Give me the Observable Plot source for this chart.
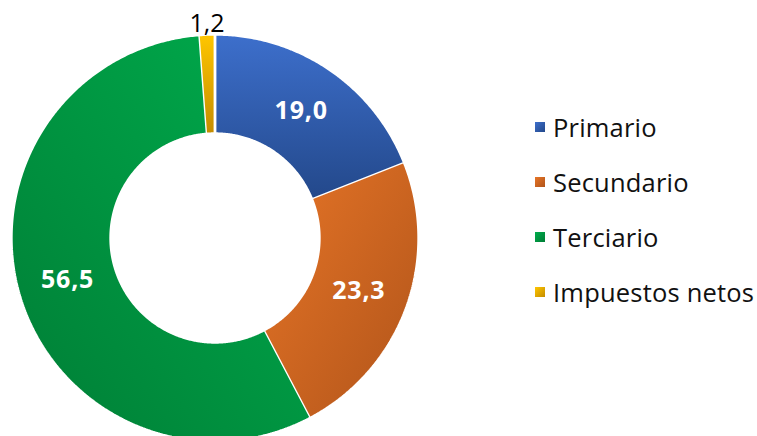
<!DOCTYPE html>
<html>
<head>
<meta charset="utf-8">
<script src="https://cdn.jsdelivr.net/npm/d3@7"></script>
<script src="https://cdn.jsdelivr.net/npm/@observablehq/plot@0.6"></script>
<style>
  html, body { margin: 0; padding: 0; background: #fff; }
  #wrap { position: relative; width: 757px; height: 436px; overflow: hidden; font-family: "Open Sans", "Noto Sans", sans-serif; }
  #wrap svg { position: absolute; left: 0; top: 0; }
  #legend { position: absolute; left: 535px; top: 99px; }
  .row { height: 55px; display: flex; align-items: center; font-size: 25.5px; color: #111; white-space: nowrap; letter-spacing: 0.2px; }
  .sw { width: 10px; height: 10px; margin-right: 8px; }
  .lbl { letter-spacing: 0.8px; }
</style>
</head>
<body>
<div id="wrap"><div id="legend"></div></div>
<script>
const categories = ["Primario", "Secundario", "Terciario", "Impuestos netos"];
const values = [19.0, 23.3, 56.5, 1.2];
const valueLabels = ["19,0", "23,3", "56,5", "1,2"];

// gradient stops per category (light, dark) and direction
const gradients = [
  {id: "g0", light: "#3d6fcc", dark: "#23488a", x1: 0, y1: 0, x2: 0, y2: 1},
  {id: "g1", light: "#e77527", dark: "#b0541a", x1: 0, y1: 0, x2: 1, y2: 1},
  {id: "g2", light: "#00ad4d", dark: "#007d35", x1: 1, y1: 0, x2: 0, y2: 1},
  {id: "g3", light: "#ffc600", dark: "#c48c00", x1: 0, y1: 0, x2: 0, y2: 1}
];

const inner = 0.515;
const outer = 1.006;
const pie = d3.pie().sort(null).value(d => d.value).startAngle(0).endAngle(2 * Math.PI);
const slices = pie(categories.map((c, i) => ({category: c, value: values[i], label: valueLabels[i]})));

const pts = [];
for (const s of slices) {
  const n = Math.max(4, Math.ceil((s.endAngle - s.startAngle) / (Math.PI / 360)));
  for (let k = 0; k <= n; k++) {
    const a = s.startAngle + (s.endAngle - s.startAngle) * k / n;
    pts.push({category: s.data.category, x: outer * Math.sin(a), y: outer * Math.cos(a)});
  }
  for (let k = n; k >= 0; k--) {
    const a = s.startAngle + (s.endAngle - s.startAngle) * k / n;
    pts.push({category: s.data.category, x: inner * Math.sin(a), y: inner * Math.cos(a)});
  }
}

const labelPts = slices.map((s, i) => {
  const a = (s.startAngle + s.endAngle) / 2;
  const r = i === 3 ? 1.06 : (inner + 1) / 2;
  return {x: r * Math.sin(a), y: r * Math.cos(a), label: s.data.label, inside: i !== 3};
});

const chart = Plot.plot({
  width: 757,
  height: 436,
  margin: 0,
  x: {domain: [-1, 1], range: [12, 417], axis: null},
  y: {domain: [-1, 1], range: [440, 35], axis: null},
  color: {type: "ordinal", domain: categories, range: gradients.map(g => `url(#${g.id})`)},
  marks: [
    Plot.line(pts, {x: "x", y: "y", z: "category", fill: "category", stroke: "white", strokeWidth: 2.8, curve: "linear", strokeLinejoin: "miter"}),
    Plot.text(labelPts.filter(d => d.inside), {x: "x", y: "y", text: "label", fill: "white", fontSize: 25, fontWeight: "bold", fontFamily: "Open Sans", className: "lbl"}),
    Plot.text(labelPts.filter(d => !d.inside), {x: "x", y: "y", text: "label", fill: "black", fontSize: 25, fontFamily: "Open Sans"})
  ]
});

const defs = d3.select(chart).insert("defs", ":first-child");
for (const g of gradients) {
  const lg = defs.append("linearGradient").attr("id", g.id)
    .attr("x1", g.x1).attr("y1", g.y1).attr("x2", g.x2).attr("y2", g.y2);
  lg.append("stop").attr("offset", "0").attr("stop-color", g.light);
  lg.append("stop").attr("offset", "1").attr("stop-color", g.dark);
}

const wrap = document.getElementById("wrap");
wrap.insertBefore(chart, wrap.firstChild);

const legend = d3.select("#legend");
categories.forEach((c, i) => {
  const row = legend.append("div").attr("class", "row");
  row.append("div").attr("class", "sw")
    .style("background", `linear-gradient(135deg, ${gradients[i].light}, ${gradients[i].dark})`);
  row.append("span").text(c);
});
</script>
</body>
</html>
